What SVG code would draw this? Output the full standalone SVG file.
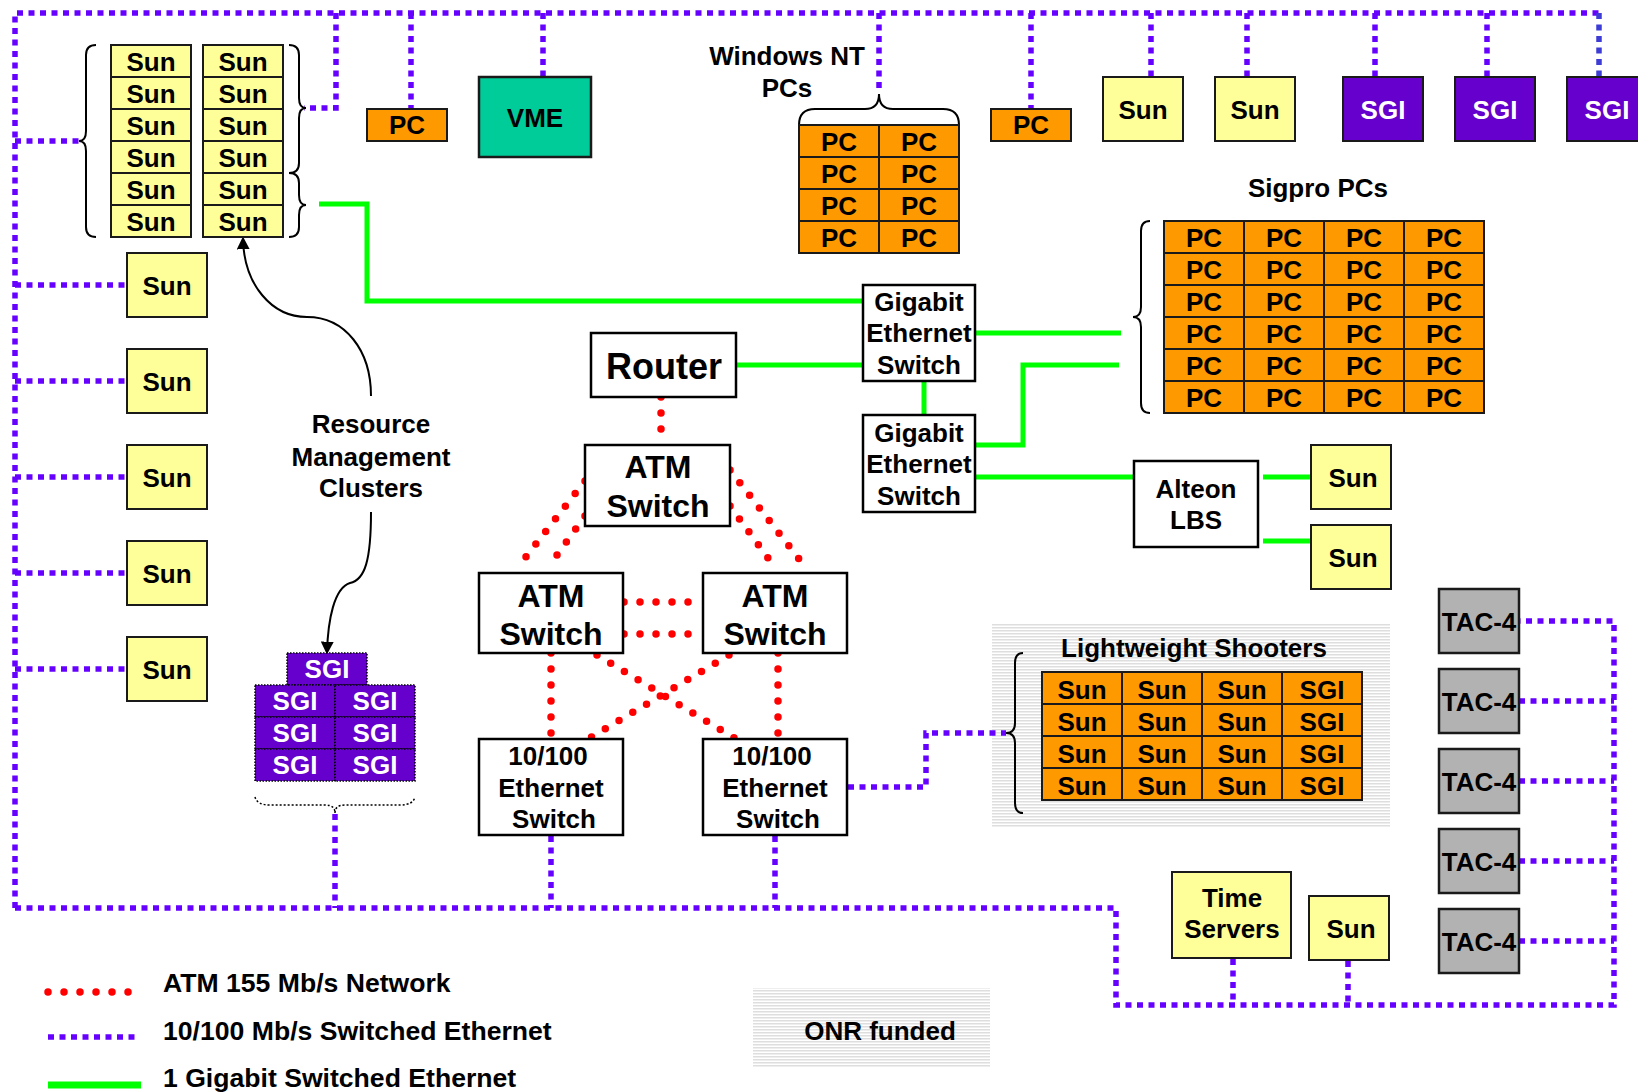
<svg xmlns="http://www.w3.org/2000/svg" width="1638" height="1092" viewBox="0 0 1638 1092">
<style>
.sun{fill:#FFFF99;stroke:#1a1a1a;stroke-width:2}
.pc{fill:#FF9900;stroke:#1a1a1a;stroke-width:2}
.sgi{fill:#6600CC;stroke:#1a1a1a;stroke-width:2}
.sgid{fill:#6600CC;stroke:#000;stroke-width:1.5;stroke-dasharray:1.5 1.5}
.vme{fill:#00CC99;stroke:#1a1a1a;stroke-width:2.5}
.tac{fill:#B2B2B2;stroke:#1a1a1a;stroke-width:2.5}
.sw{fill:#fff;stroke:#000;stroke-width:2.5}
.t{font-family:"Liberation Sans",Arial,Helvetica,sans-serif;font-weight:bold;font-size:26px;text-anchor:middle;fill:#000}
.l{text-anchor:start;font-size:26.6px}
.w{fill:#fff}
.eth{fill:none;stroke:#6600FF;stroke-width:5.5;stroke-dasharray:6 5.5}
.atm{fill:none;stroke:#FF0000;stroke-width:7.5;stroke-linecap:round;stroke-dasharray:0 16}
.gig{fill:none;stroke:#00FF00;stroke-width:5}
.brace{fill:none;stroke:#000;stroke-width:2}
.arr{fill:none;stroke:#000;stroke-width:2;marker-end:url(#ah)}
</style>
<defs>
<pattern id="hatch" width="8" height="3" patternUnits="userSpaceOnUse">
<rect width="8" height="3" fill="#ffffff"/>
<rect width="8" height="1.5" fill="#dedede"/>
</pattern>
<marker id="ah" viewBox="0 0 10 10" refX="8" refY="5" markerWidth="13" markerHeight="13" markerUnits="userSpaceOnUse" orient="auto">
<path d="M0,0 L10,5 L0,10 z" fill="#000"/>
</marker>
</defs>
<rect width="1638" height="1092" fill="#fff"/>

<!-- shaded ONR regions -->
<rect id="onr-lightweight" x="992" y="623" width="398" height="205" fill="url(#hatch)"/>

<!-- connectors -->
<g id="connectors">
<!-- 10/100 ethernet -->
<path class="eth" d="M15,908 V13 H1599"/>
<path class="eth" d="M1599,13 V77" style="stroke:#3d3dd6"/>
<path class="eth" d="M15,141 H79"/>
<path class="eth" d="M336,13 V108 H304"/>
<path class="eth" d="M411,13 V109"/>
<path class="eth" d="M543,13 V77"/>
<path class="eth" d="M879,13 V92"/>
<path class="eth" d="M1031,13 V109"/>
<path class="eth" d="M1151,13 V77"/>
<path class="eth" d="M1247,13 V77"/>
<path class="eth" d="M1375,13 V77"/>
<path class="eth" d="M1487,13 V77"/>
<path class="eth" d="M15,285 H127"/>
<path class="eth" d="M15,381 H127"/>
<path class="eth" d="M15,477 H127"/>
<path class="eth" d="M15,573 H127"/>
<path class="eth" d="M15,669 H127"/>
<path class="eth" d="M15,908 H1116 V1005 H1614 V621 H1519"/>
<path class="eth" d="M1519,701 H1614"/>
<path class="eth" d="M1519,781 H1614"/>
<path class="eth" d="M1519,861 H1614"/>
<path class="eth" d="M1519,941 H1614"/>
<path class="eth" d="M335,814 V908"/>
<path class="eth" d="M551,836 V908"/>
<path class="eth" d="M775,836 V908"/>
<path class="eth" d="M848,787 H926 V733 H1006"/>
<path class="eth" d="M1233,959 V1005"/>
<path class="eth" d="M1348,961 V1005"/>
<!-- ATM -->
<path class="atm" d="M661,397 V445"/>
<path class="atm" d="M585,481 L518,567"/>
<path class="atm" d="M585,516 L552,562"/>
<path class="atm" d="M730,470 L806,568"/>
<path class="atm" d="M730,506 L771,562"/>
<path class="atm" d="M624,602 H703"/>
<path class="atm" d="M624,634 H703"/>
<path class="atm" d="M551,653 V739"/>
<path class="atm" d="M778,653 V739"/>
<path class="atm" d="M597,655 L736,739"/>
<path class="atm" d="M729,655 L588,739"/>
<!-- Gigabit -->
<path class="gig" d="M319,204 H367 V301 H863"/>
<path class="gig" d="M736,365 H863"/>
<path class="gig" d="M975,333 H1121"/>
<path class="gig" d="M924,381 V415"/>
<path class="gig" d="M975,445 H1023 V365 H1119"/>
<path class="gig" d="M975,477 H1134"/>
<path class="gig" d="M1263,477 H1311"/>
<path class="gig" d="M1263,541 H1311"/>
<!-- annotation arrows -->
<path class="arr" d="M371,396 C371,350 345,317 307,317 C272,317 244,285 243,239"/>
<path class="arr" d="M371,512 C371,560 365,580 350,583 C334,588 328,620 327,652"/>
</g>

<!-- braces -->
<g id="braces">
<path class="brace" d="M96,45 Q86,45 86,55 V131 Q86,141 79,141 Q86,141 86,151 V227 Q86,237 96,237"/>
<path class="brace" d="M289,45 Q299,45 299,55 V98 Q299,108 306,108 Q299,108 299,118 V163 Q299,173 289,173"/>
<path class="brace" d="M289,173 Q299,173 299,183 V195 Q299,205 306,205 Q299,205 299,215 V227 Q299,237 289,237"/>
<path class="brace" d="M799,125 Q799,109 815,109 H865 Q879,109 879,94 Q879,109 893,109 H943 Q959,109 959,125"/>
<path class="brace" d="M1150,221 Q1141,221 1141,231 V307 Q1141,317 1133,317 Q1141,317 1141,327 V403 Q1141,413 1150,413"/>
<path class="brace" d="M1023,653 Q1015,653 1015,663 V723 Q1015,733 1006,733 Q1015,733 1015,743 V803 Q1015,813 1023,813"/>
<path class="brace" d="M255,797 Q257,805 270,805 H325 Q335,805 335,813 Q335,805 345,805 H400 Q413,805 415,797" style="stroke-width:1.5;stroke-dasharray:2 2"/>
</g>

<!-- Sun cluster (upper left) -->
<g id="sun-cluster">
<rect class="sun" x="111" y="45" width="80" height="32"/><text class="t" x="151" y="71">Sun</text>
<rect class="sun" x="111" y="77" width="80" height="32"/><text class="t" x="151" y="103">Sun</text>
<rect class="sun" x="111" y="109" width="80" height="32"/><text class="t" x="151" y="135">Sun</text>
<rect class="sun" x="111" y="141" width="80" height="32"/><text class="t" x="151" y="167">Sun</text>
<rect class="sun" x="111" y="173" width="80" height="32"/><text class="t" x="151" y="199">Sun</text>
<rect class="sun" x="111" y="205" width="80" height="32"/><text class="t" x="151" y="231">Sun</text>
<rect class="sun" x="203" y="45" width="80" height="32"/><text class="t" x="243" y="71">Sun</text>
<rect class="sun" x="203" y="77" width="80" height="32"/><text class="t" x="243" y="103">Sun</text>
<rect class="sun" x="203" y="109" width="80" height="32"/><text class="t" x="243" y="135">Sun</text>
<rect class="sun" x="203" y="141" width="80" height="32"/><text class="t" x="243" y="167">Sun</text>
<rect class="sun" x="203" y="173" width="80" height="32"/><text class="t" x="243" y="199">Sun</text>
<rect class="sun" x="203" y="205" width="80" height="32"/><text class="t" x="243" y="231">Sun</text>
</g>

<!-- Left Suns -->
<g id="sun-left-1"><rect class="sun" x="127" y="253" width="80" height="64"/><text class="t" x="167" y="295">Sun</text></g>
<g id="sun-left-2"><rect class="sun" x="127" y="349" width="80" height="64"/><text class="t" x="167" y="391">Sun</text></g>
<g id="sun-left-3"><rect class="sun" x="127" y="445" width="80" height="64"/><text class="t" x="167" y="487">Sun</text></g>
<g id="sun-left-4"><rect class="sun" x="127" y="541" width="80" height="64"/><text class="t" x="167" y="583">Sun</text></g>
<g id="sun-left-5"><rect class="sun" x="127" y="637" width="80" height="64"/><text class="t" x="167" y="679">Sun</text></g>

<!-- Top row -->
<g id="pc-top-1"><rect class="pc" x="367" y="109" width="80" height="32"/><text class="t" x="407" y="134">PC</text></g>
<g id="vme"><rect class="vme" x="479" y="77" width="112" height="80"/><text class="t" x="535" y="127">VME</text></g>
<g id="pc-top-2"><rect class="pc" x="991" y="109" width="80" height="32"/><text class="t" x="1031" y="134">PC</text></g>
<g id="sun-top-1"><rect class="sun" x="1103" y="77" width="80" height="64"/><text class="t" x="1143" y="119">Sun</text></g>
<g id="sun-top-2"><rect class="sun" x="1215" y="77" width="80" height="64"/><text class="t" x="1255" y="119">Sun</text></g>
<g id="sgi-top-1"><rect class="sgi" x="1343" y="77" width="80" height="64"/><text class="t w" x="1383" y="119">SGI</text></g>
<g id="sgi-top-2"><rect class="sgi" x="1455" y="77" width="80" height="64"/><text class="t w" x="1495" y="119">SGI</text></g>
<g id="sgi-top-3"><rect class="sgi" x="1567" y="77" width="80" height="64"/><text class="t w" x="1607" y="119">SGI</text></g>

<!-- Windows NT PCs -->
<g id="windows-nt-pcs">
<text class="t" x="787" y="65">Windows NT</text>
<text class="t" x="787" y="97">PCs</text>
<rect class="pc" x="799" y="125" width="80" height="32"/><text class="t" x="839" y="151">PC</text>
<rect class="pc" x="879" y="125" width="80" height="32"/><text class="t" x="919" y="151">PC</text>
<rect class="pc" x="799" y="157" width="80" height="32"/><text class="t" x="839" y="183">PC</text>
<rect class="pc" x="879" y="157" width="80" height="32"/><text class="t" x="919" y="183">PC</text>
<rect class="pc" x="799" y="189" width="80" height="32"/><text class="t" x="839" y="215">PC</text>
<rect class="pc" x="879" y="189" width="80" height="32"/><text class="t" x="919" y="215">PC</text>
<rect class="pc" x="799" y="221" width="80" height="32"/><text class="t" x="839" y="247">PC</text>
<rect class="pc" x="879" y="221" width="80" height="32"/><text class="t" x="919" y="247">PC</text>
</g>

<!-- Sigpro PCs -->
<g id="sigpro-pcs">
<text class="t" x="1318" y="197">Sigpro PCs</text>
<rect class="pc" x="1164" y="221" width="80" height="32"/><text class="t" x="1204" y="247">PC</text>
<rect class="pc" x="1244" y="221" width="80" height="32"/><text class="t" x="1284" y="247">PC</text>
<rect class="pc" x="1324" y="221" width="80" height="32"/><text class="t" x="1364" y="247">PC</text>
<rect class="pc" x="1404" y="221" width="80" height="32"/><text class="t" x="1444" y="247">PC</text>
<rect class="pc" x="1164" y="253" width="80" height="32"/><text class="t" x="1204" y="279">PC</text>
<rect class="pc" x="1244" y="253" width="80" height="32"/><text class="t" x="1284" y="279">PC</text>
<rect class="pc" x="1324" y="253" width="80" height="32"/><text class="t" x="1364" y="279">PC</text>
<rect class="pc" x="1404" y="253" width="80" height="32"/><text class="t" x="1444" y="279">PC</text>
<rect class="pc" x="1164" y="285" width="80" height="32"/><text class="t" x="1204" y="311">PC</text>
<rect class="pc" x="1244" y="285" width="80" height="32"/><text class="t" x="1284" y="311">PC</text>
<rect class="pc" x="1324" y="285" width="80" height="32"/><text class="t" x="1364" y="311">PC</text>
<rect class="pc" x="1404" y="285" width="80" height="32"/><text class="t" x="1444" y="311">PC</text>
<rect class="pc" x="1164" y="317" width="80" height="32"/><text class="t" x="1204" y="343">PC</text>
<rect class="pc" x="1244" y="317" width="80" height="32"/><text class="t" x="1284" y="343">PC</text>
<rect class="pc" x="1324" y="317" width="80" height="32"/><text class="t" x="1364" y="343">PC</text>
<rect class="pc" x="1404" y="317" width="80" height="32"/><text class="t" x="1444" y="343">PC</text>
<rect class="pc" x="1164" y="349" width="80" height="32"/><text class="t" x="1204" y="375">PC</text>
<rect class="pc" x="1244" y="349" width="80" height="32"/><text class="t" x="1284" y="375">PC</text>
<rect class="pc" x="1324" y="349" width="80" height="32"/><text class="t" x="1364" y="375">PC</text>
<rect class="pc" x="1404" y="349" width="80" height="32"/><text class="t" x="1444" y="375">PC</text>
<rect class="pc" x="1164" y="381" width="80" height="32"/><text class="t" x="1204" y="407">PC</text>
<rect class="pc" x="1244" y="381" width="80" height="32"/><text class="t" x="1284" y="407">PC</text>
<rect class="pc" x="1324" y="381" width="80" height="32"/><text class="t" x="1364" y="407">PC</text>
<rect class="pc" x="1404" y="381" width="80" height="32"/><text class="t" x="1444" y="407">PC</text>
</g>

<!-- Switches -->
<g id="router"><rect class="sw" x="591" y="333" width="145" height="64"/><text class="t" x="664" y="379" style="font-size:36px">Router</text></g>
<g id="atm-top"><rect class="sw" x="585" y="445" width="145" height="81"/><text class="t" x="658" y="478" style="font-size:32px">ATM</text><text class="t" x="658" y="517" style="font-size:32px">Switch</text></g>
<g id="atm-left"><rect class="sw" x="479" y="573" width="144" height="80"/><text class="t" x="551" y="607" style="font-size:32px">ATM</text><text class="t" x="551" y="645" style="font-size:32px">Switch</text></g>
<g id="atm-right"><rect class="sw" x="703" y="573" width="144" height="80"/><text class="t" x="775" y="607" style="font-size:32px">ATM</text><text class="t" x="775" y="645" style="font-size:32px">Switch</text></g>
<g id="eth-left"><rect class="sw" x="479" y="739" width="144" height="96"/><text class="t" x="548" y="765">10/100</text><text class="t" x="551" y="797">Ethernet</text><text class="t" x="554" y="828">Switch</text></g>
<g id="eth-right"><rect class="sw" x="703" y="739" width="144" height="96"/><text class="t" x="772" y="765">10/100</text><text class="t" x="775" y="797">Ethernet</text><text class="t" x="778" y="828">Switch</text></g>
<g id="gig-switch-1"><rect class="sw" x="863" y="285" width="112" height="96"/><text class="t" x="919" y="311">Gigabit</text><text class="t" x="919" y="342">Ethernet</text><text class="t" x="919" y="374">Switch</text></g>
<g id="gig-switch-2"><rect class="sw" x="863" y="415" width="112" height="97"/><text class="t" x="919" y="442">Gigabit</text><text class="t" x="919" y="473">Ethernet</text><text class="t" x="919" y="505">Switch</text></g>
<g id="alteon"><rect class="sw" x="1134" y="461" width="124" height="86"/><text class="t" x="1196" y="498">Alteon</text><text class="t" x="1196" y="529">LBS</text></g>
<g id="sun-alteon-1"><rect class="sun" x="1311" y="445" width="80" height="64"/><text class="t" x="1353" y="487">Sun</text></g>
<g id="sun-alteon-2"><rect class="sun" x="1311" y="525" width="80" height="64"/><text class="t" x="1353" y="567">Sun</text></g>

<!-- Resource Management label -->
<g id="resource-label">
<text class="t" x="371" y="433">Resource</text>
<text class="t" x="371" y="466">Management</text>
<text class="t" x="371" y="497">Clusters</text>
</g>

<!-- SGI cluster -->
<g id="sgi-cluster">
<rect class="sgid" x="287" y="653" width="80" height="32"/><text class="t w" x="327" y="678">SGI</text>
<rect class="sgid" x="255" y="685" width="80" height="32"/><text class="t w" x="295" y="710">SGI</text>
<rect class="sgid" x="335" y="685" width="80" height="32"/><text class="t w" x="375" y="710">SGI</text>
<rect class="sgid" x="255" y="717" width="80" height="32"/><text class="t w" x="295" y="742">SGI</text>
<rect class="sgid" x="335" y="717" width="80" height="32"/><text class="t w" x="375" y="742">SGI</text>
<rect class="sgid" x="255" y="749" width="80" height="32"/><text class="t w" x="295" y="774">SGI</text>
<rect class="sgid" x="335" y="749" width="80" height="32"/><text class="t w" x="375" y="774">SGI</text>
</g>

<!-- Lightweight Shooters -->
<g id="lightweight-shooters">
<text class="t" x="1194" y="657">Lightweight Shooters</text>
<rect class="pc" x="1042" y="672" width="80" height="32"/><text class="t" x="1082" y="699">Sun</text>
<rect class="pc" x="1122" y="672" width="80" height="32"/><text class="t" x="1162" y="699">Sun</text>
<rect class="pc" x="1202" y="672" width="80" height="32"/><text class="t" x="1242" y="699">Sun</text>
<rect class="pc" x="1282" y="672" width="80" height="32"/><text class="t" x="1322" y="699">SGI</text>
<rect class="pc" x="1042" y="704" width="80" height="32"/><text class="t" x="1082" y="731">Sun</text>
<rect class="pc" x="1122" y="704" width="80" height="32"/><text class="t" x="1162" y="731">Sun</text>
<rect class="pc" x="1202" y="704" width="80" height="32"/><text class="t" x="1242" y="731">Sun</text>
<rect class="pc" x="1282" y="704" width="80" height="32"/><text class="t" x="1322" y="731">SGI</text>
<rect class="pc" x="1042" y="736" width="80" height="32"/><text class="t" x="1082" y="763">Sun</text>
<rect class="pc" x="1122" y="736" width="80" height="32"/><text class="t" x="1162" y="763">Sun</text>
<rect class="pc" x="1202" y="736" width="80" height="32"/><text class="t" x="1242" y="763">Sun</text>
<rect class="pc" x="1282" y="736" width="80" height="32"/><text class="t" x="1322" y="763">SGI</text>
<rect class="pc" x="1042" y="768" width="80" height="32"/><text class="t" x="1082" y="795">Sun</text>
<rect class="pc" x="1122" y="768" width="80" height="32"/><text class="t" x="1162" y="795">Sun</text>
<rect class="pc" x="1202" y="768" width="80" height="32"/><text class="t" x="1242" y="795">Sun</text>
<rect class="pc" x="1282" y="768" width="80" height="32"/><text class="t" x="1322" y="795">SGI</text>
</g>

<!-- TAC-4 -->
<g id="tac-1"><rect class="tac" x="1439" y="589" width="80" height="64"/><text class="t" x="1479" y="631">TAC-4</text></g>
<g id="tac-2"><rect class="tac" x="1439" y="669" width="80" height="64"/><text class="t" x="1479" y="711">TAC-4</text></g>
<g id="tac-3"><rect class="tac" x="1439" y="749" width="80" height="64"/><text class="t" x="1479" y="791">TAC-4</text></g>
<g id="tac-4"><rect class="tac" x="1439" y="829" width="80" height="64"/><text class="t" x="1479" y="871">TAC-4</text></g>
<g id="tac-5"><rect class="tac" x="1439" y="909" width="80" height="64"/><text class="t" x="1479" y="951">TAC-4</text></g>

<g id="time-servers"><rect class="sun" x="1172" y="872" width="119" height="86"/><text class="t" x="1232" y="907">Time</text><text class="t" x="1232" y="938">Servers</text></g>
<g id="sun-time"><rect class="sun" x="1309" y="896" width="80" height="64"/><text class="t" x="1351" y="938">Sun</text></g>

<!-- Legend -->
<g id="legend">
<path class="atm" d="M48,992 H134"/>
<text class="t l" x="163" y="992">ATM 155 Mb/s Network</text>
<path class="eth" d="M48,1037 H136"/>
<text class="t l" x="163" y="1040">10/100 Mb/s Switched Ethernet</text>
<path class="gig" d="M48,1085 H141" style="stroke-width:7"/>
<text class="t l" x="163" y="1087">1 Gigabit Switched Ethernet</text>
<rect x="753" y="988" width="237" height="79" fill="url(#hatch)"/>
<text class="t" x="880" y="1040">ONR funded</text>
</g>
</svg>
